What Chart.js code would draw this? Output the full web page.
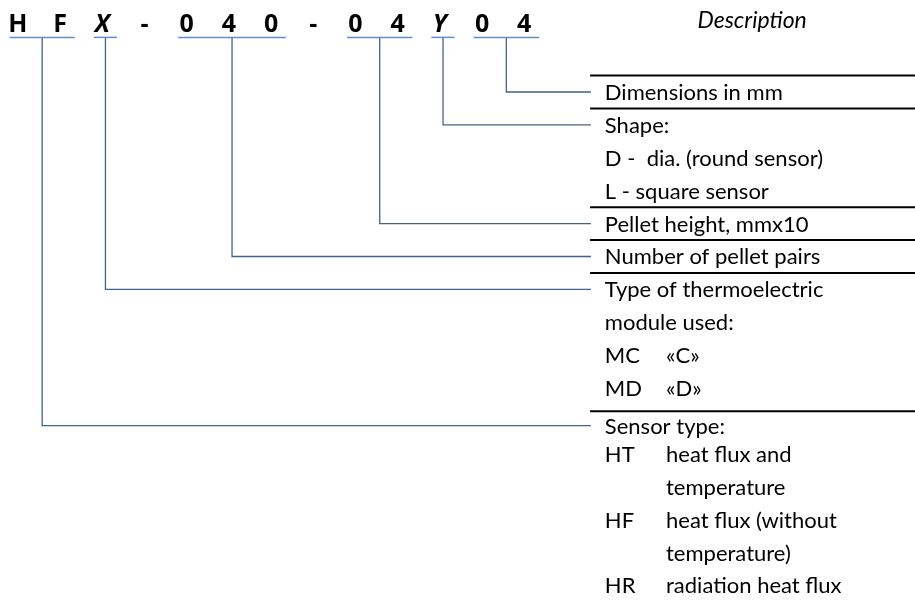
<!DOCTYPE html>
<html>
<head>
<meta charset="utf-8">
<script src="https://cdn.jsdelivr.net/npm/chart.js@4"></script>
<style>
  html, body { margin: 0; padding: 0; background: #ffffff; }
  #wrap { width: 915px; height: 602px; position: relative; }
</style>
</head>
<body>
<div id="wrap"><canvas id="c"></canvas></div>
<script>
// ---- data ----
const codeChars = ['H', 'F', 'X', '-', '0', '4', '0', '-', '0', '4', 'Y', '0', '4'];
const italicCodeChars = [2, 10];              // indices of the variable letters X and Y
const groupFrom = [11, 10, 8, 4, 2, 0];       // first code character of each field
const groupTo   = [12, 10, 9, 6, 2, 1];       // last code character of each field
const groupRow  = [0, 1, 4, 5, 6, 10];        // description row each field points to
const descLines = [
  'Dimensions in mm',
  'Shape:',
  'D -  dia. (round sensor)',
  'L - square sensor',
  'Pellet height, mmx10',
  'Number of pellet pairs',
  'Type of thermoelectric',
  'module used:',
  'MC\t«C»',
  'MD\t«D»',
  'Sensor type:',
  'HT\theat flux and',
  '\ttemperature',
  'HF\theat flux (without',
  '\ttemperature)',
  'HR\tradiation heat flux'
];
const ruleAfterRow = [-1, 0, 3, 4, 5, 9];
const headerTitle = 'Description';

// ---- layout (in scale units: x = code column, y = description row) ----
const L = {
  xMin: -0.424, xMax: 21.26, yMin: -2.796, yMax: 15.50,
  headerRow: -1.824, titleRow: -1.945, underlineRow: -1.66,
  ulLeft: 0.2, ulRight: 0.35,
  ruleStart: 13.56, textCol: 13.91, tabCol: 15.36, titleCol: 17.4,
  ruleOffset: 0.5, blockGap: 0.2, blockTextGap: 0.14
};
const colors = { underline: '#5b8fd0', connector: '#46618a', rule: '#000000', text: '#000000' };
const lastRuleRow = ruleAfterRow[ruleAfterRow.length - 1];
const rowPos = r => r + (r === lastRuleRow + 1 ? L.blockTextGap : 0);

// ---- build datasets ----
const datasets = [];
for (let g = 0; g < groupFrom.length; g++) {
  const a = groupFrom[g] - L.ulLeft, b = groupTo[g] + L.ulRight;
  const mid = (a + b) / 2;
  datasets.push({ data: [{x: a, y: L.underlineRow}, {x: b, y: L.underlineRow}],
    borderColor: colors.underline, borderWidth: 1.5 });
  const r = rowPos(groupRow[g]);
  datasets.push({ data: [{x: mid, y: L.underlineRow}, {x: mid, y: r}, {x: L.ruleStart + 0.02, y: r}],
    borderColor: colors.connector, borderWidth: 1.3 });
}
ruleAfterRow.forEach((r, k) => {
  // the last rule opens the multi-row "Sensor type" block, which sits a little lower
  const y = r + L.ruleOffset + (k === ruleAfterRow.length - 1 ? L.blockGap : 0);
  datasets.push({ data: [{x: L.ruleStart, y}, {x: L.xMax, y}],
    borderColor: colors.rule, borderWidth: 2 });
});
datasets.forEach(d => { d.showLine = true; d.pointRadius = 0; d.fill = false; d.tension = 0; });

const textPlugin = {
  id: 'textPlugin',
  afterDatasetsDraw(chart) {
    const ctx = chart.ctx, xs = chart.scales.x, ys = chart.scales.y;
    ctx.save();
    ctx.fillStyle = colors.text;
    ctx.textBaseline = 'alphabetic';
    // code header
    ctx.textAlign = 'center';
    codeChars.forEach((ch, i) => {
      ctx.font = (italicCodeChars.includes(i) ? 'italic ' : '') + 'bold 25px "Open Sans"';
      ctx.fillText(ch, xs.getPixelForValue(i), ys.getPixelForValue(L.headerRow));
    });
    // title
    ctx.font = 'italic 23px Lato';
    ctx.fillText(headerTitle, xs.getPixelForValue(L.titleCol), ys.getPixelForValue(L.titleRow));
    // descriptions
    ctx.textAlign = 'left';
    ctx.font = '22px Lato';
    descLines.forEach((line, r) => {
      const y = ys.getPixelForValue(rowPos(r)) + 22 * 0.36;
      const parts = line.split('\t');
      if (parts.length === 1) {
        ctx.fillText(parts[0], xs.getPixelForValue(L.textCol), y);
      } else {
        if (parts[0]) ctx.fillText(parts[0], xs.getPixelForValue(L.textCol), y);
        ctx.fillText(parts[1], xs.getPixelForValue(L.tabCol), y);
      }
    });
    ctx.restore();
  }
};

new Chart(document.getElementById('c'), {
  type: 'scatter',
  data: { datasets },
  options: {
    responsive: true,
    maintainAspectRatio: false,
    animation: false,
    layout: { padding: 0 },
    plugins: { legend: { display: false }, tooltip: { enabled: false } },
    scales: {
      x: { type: 'linear', display: false, min: L.xMin, max: L.xMax },
      y: { type: 'linear', display: false, min: L.yMin, max: L.yMax, reverse: true }
    }
  },
  plugins: [textPlugin]
});
</script>
</body>
</html>
